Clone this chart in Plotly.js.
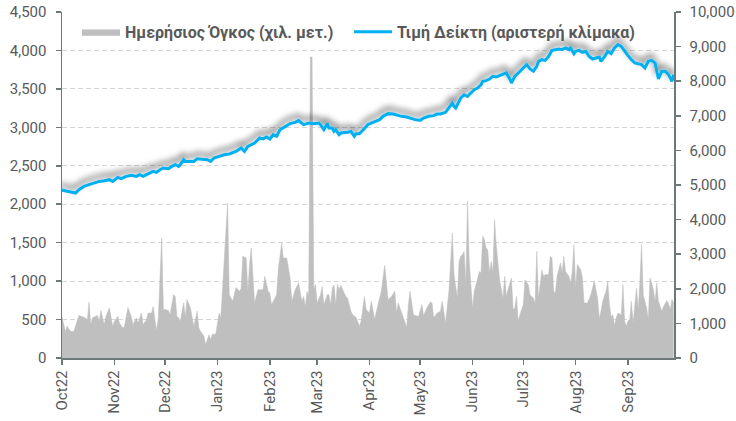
<!DOCTYPE html>
<html>
<head>
<meta charset="utf-8">
<script src="https://cdn.plot.ly/plotly-3.0.1.min.js"></script>
<style>
html,body{margin:0;padding:0;background:#fff;}
#chart{width:736px;height:421px;}
</style>
</head>
<body>
<div id="chart"></div>
<script>
// ---- Data ----
const volumeDates = ['2022-09-30','2022-10-03','2022-10-04','2022-10-06','2022-10-08','2022-10-10','2022-10-11','2022-10-14','2022-10-16','2022-10-17','2022-10-18','2022-10-19','2022-10-22','2022-10-23','2022-10-24','2022-10-26','2022-10-27','2022-10-29','2022-10-31',
'2022-11-01','2022-11-03','2022-11-04','2022-11-06','2022-11-07','2022-11-08','2022-11-09','2022-11-11','2022-11-12','2022-11-14','2022-11-15','2022-11-17','2022-11-18','2022-11-20','2022-11-21','2022-11-23','2022-11-24','2022-11-25','2022-11-26','2022-11-27','2022-11-29','2022-11-30',
'2022-12-01','2022-12-03','2022-12-04','2022-12-06','2022-12-07','2022-12-08','2022-12-09','2022-12-10','2022-12-12','2022-12-13','2022-12-14','2022-12-16','2022-12-17','2022-12-18','2022-12-20','2022-12-21','2022-12-22','2022-12-24','2022-12-25','2022-12-27','2022-12-28','2022-12-29','2022-12-31',
'2023-01-02','2023-01-03','2023-01-05','2023-01-07','2023-01-08','2023-01-10','2023-01-12','2023-01-14','2023-01-15','2023-01-16','2023-01-18','2023-01-19','2023-01-20','2023-01-21','2023-01-23','2023-01-25','2023-01-26','2023-01-28','2023-01-29','2023-01-31',
'2023-02-01','2023-02-02','2023-02-04','2023-02-05','2023-02-06','2023-02-08','2023-02-09','2023-02-11','2023-02-13','2023-02-14','2023-02-16','2023-02-18','2023-02-20','2023-02-21','2023-02-22','2023-02-23','2023-02-24','2023-02-25','2023-02-26','2023-02-27','2023-02-28',
'2023-03-01','2023-03-03','2023-03-04','2023-03-05','2023-03-07','2023-03-08','2023-03-09','2023-03-10','2023-03-11','2023-03-12','2023-03-13','2023-03-14','2023-03-15','2023-03-17','2023-03-18','2023-03-19','2023-03-21','2023-03-22','2023-03-24','2023-03-26','2023-03-27','2023-03-29','2023-03-30',
'2023-04-01','2023-04-02','2023-04-03','2023-04-04','2023-04-06','2023-04-08','2023-04-09','2023-04-10','2023-04-12','2023-04-14','2023-04-16','2023-04-17','2023-04-18','2023-04-20','2023-04-21','2023-04-23','2023-04-24','2023-04-25','2023-04-27','2023-04-29','2023-04-30',
'2023-05-02','2023-05-03','2023-05-05','2023-05-07','2023-05-08','2023-05-09','2023-05-11','2023-05-13','2023-05-14','2023-05-15','2023-05-16','2023-05-18','2023-05-19','2023-05-20','2023-05-21','2023-05-23','2023-05-24','2023-05-25','2023-05-26','2023-05-27','2023-05-28','2023-05-29','2023-05-30',
'2023-06-01','2023-06-02','2023-06-04','2023-06-05','2023-06-06','2023-06-07','2023-06-08','2023-06-09','2023-06-10','2023-06-11','2023-06-12','2023-06-13','2023-06-14','2023-06-15','2023-06-17','2023-06-18','2023-06-19','2023-06-20','2023-06-21','2023-06-22','2023-06-23','2023-06-24','2023-06-25','2023-06-26','2023-06-27','2023-06-28','2023-06-30',
'2023-07-01','2023-07-02','2023-07-04','2023-07-05','2023-07-07','2023-07-08','2023-07-09','2023-07-10','2023-07-12','2023-07-13','2023-07-14','2023-07-16','2023-07-17','2023-07-18','2023-07-19','2023-07-20','2023-07-21','2023-07-22','2023-07-23','2023-07-24','2023-07-25','2023-07-26','2023-07-28','2023-07-29','2023-07-30','2023-07-31',
'2023-08-01','2023-08-02','2023-08-04','2023-08-05','2023-08-06','2023-08-08','2023-08-09','2023-08-10','2023-08-11','2023-08-12','2023-08-14','2023-08-15','2023-08-16','2023-08-17','2023-08-19','2023-08-20','2023-08-21','2023-08-22','2023-08-23','2023-08-24','2023-08-25','2023-08-26','2023-08-28','2023-08-29','2023-08-30','2023-08-31',
'2023-09-01','2023-09-02','2023-09-03','2023-09-04','2023-09-06','2023-09-07','2023-09-08','2023-09-09','2023-09-10','2023-09-12','2023-09-13','2023-09-14','2023-09-15','2023-09-16','2023-09-17','2023-09-18','2023-09-19','2023-09-21','2023-09-22','2023-09-24','2023-09-25','2023-09-26','2023-09-27','2023-09-28'];

const volumeValues = [1400,770,920,770,770,1110,1230,1180,1110,1620,960,1160,1230,1060,1370,960,1200,1450,920,
1060,1200,1010,870,920,1200,1460,1200,960,1160,1010,1300,960,1110,1300,1300,1490,1110,790,1160,3470,1400,
1400,1370,1250,1830,1780,1200,1160,1060,1590,1200,1690,1450,1160,920,1350,870,770,630,390,670,530,690,690,
1300,1160,2990,4480,1830,1640,2040,1930,2000,2940,2890,1930,2700,3180,1590,1970,1970,1970,2360,1930,
1880,1540,1730,1830,2550,3320,2890,2890,2310,1640,1970,2170,1640,1780,1490,1930,1800,8700,8700,2000,2120,
1590,1830,2070,1540,1830,1830,1540,2020,2120,1540,2140,1970,2100,1880,1780,1730,1350,1250,1180,920,1060,1780,1400,
1300,1640,1400,1110,1540,1930,2310,2680,1690,1780,1930,1300,1590,1300,1160,890,1540,1930,1250,1230,1200,
1540,1230,1450,1620,1590,1160,1300,1350,1640,1350,1010,1930,2790,3610,2410,1730,2790,2940,2990,3080,2120,4530,2790,
1450,1930,2310,2500,2460,3520,3420,3180,3130,2460,2790,2460,4000,3270,2260,1930,1730,2360,1780,1970,2170,2310,1400,1450,1780,1080,1400,
1540,2260,2120,1830,1730,1590,3080,1730,2550,2360,2410,2410,2940,2890,1930,1880,2360,2550,2750,2460,2940,2500,2360,2170,2500,3270,
2020,2700,2550,2310,1590,1590,1690,1830,2020,2230,1730,1140,1350,1640,1930,2220,1540,1180,1250,940,1160,1300,1250,2120,1060,920,
1080,1110,1640,1010,2020,1400,2170,3290,1830,1450,1110,2310,2170,1970,1640,2170,1640,1350,1490,1660,1560,1400,1690,1590];

const indexDates = ['2022-09-30','2022-10-03','2022-10-06','2022-10-09','2022-10-11','2022-10-14','2022-10-17','2022-10-20','2022-10-23','2022-10-26','2022-10-29','2022-10-31',
'2022-11-03','2022-11-05','2022-11-08','2022-11-11','2022-11-14','2022-11-16','2022-11-18','2022-11-20','2022-11-22','2022-11-24','2022-11-26','2022-11-28','2022-11-30',
'2022-12-03','2022-12-05','2022-12-07','2022-12-09','2022-12-10','2022-12-12','2022-12-13','2022-12-16','2022-12-18','2022-12-20','2022-12-23','2022-12-26','2022-12-28','2022-12-30',
'2023-01-02','2023-01-05','2023-01-08','2023-01-10','2023-01-12','2023-01-15','2023-01-17','2023-01-19','2023-01-21','2023-01-23','2023-01-26','2023-01-28','2023-01-30',
'2023-02-01','2023-02-03','2023-02-05','2023-02-07','2023-02-10','2023-02-13','2023-02-16','2023-02-18','2023-02-21','2023-02-24','2023-02-27',
'2023-03-02','2023-03-03','2023-03-05','2023-03-07','2023-03-08','2023-03-10','2023-03-11','2023-03-12','2023-03-14','2023-03-15','2023-03-17','2023-03-19','2023-03-21','2023-03-23','2023-03-24','2023-03-26','2023-03-28','2023-03-29','2023-03-31',
'2023-04-02','2023-04-04','2023-04-07','2023-04-09','2023-04-12','2023-04-15','2023-04-18','2023-04-20','2023-04-23','2023-04-26','2023-04-28',
'2023-05-01','2023-05-03','2023-05-06','2023-05-09','2023-05-11','2023-05-13','2023-05-16','2023-05-18','2023-05-20','2023-05-21','2023-05-22','2023-05-24','2023-05-25','2023-05-27','2023-05-29','2023-05-31',
'2023-06-02','2023-06-04','2023-06-06','2023-06-07','2023-06-09','2023-06-11','2023-06-13','2023-06-15','2023-06-17','2023-06-19','2023-06-21','2023-06-23','2023-06-24','2023-06-26','2023-06-28','2023-06-30',
'2023-07-02','2023-07-03','2023-07-05','2023-07-07','2023-07-09','2023-07-10','2023-07-12','2023-07-14','2023-07-16','2023-07-18','2023-07-20','2023-07-22','2023-07-24','2023-07-26','2023-07-28','2023-07-29','2023-07-31',
'2023-08-01','2023-08-03','2023-08-05','2023-08-07','2023-08-09','2023-08-11','2023-08-13','2023-08-15','2023-08-16','2023-08-18','2023-08-20','2023-08-22','2023-08-24','2023-08-26','2023-08-28','2023-08-30',
'2023-09-01','2023-09-03','2023-09-05','2023-09-07','2023-09-09','2023-09-11','2023-09-13','2023-09-15','2023-09-17','2023-09-19','2023-09-21','2023-09-23','2023-09-25','2023-09-27','2023-09-28'];

const indexValues = [2189,2176,2163,2146,2189,2232,2254,2276,2297,2306,2319,2297,
2349,2332,2362,2375,2362,2384,2362,2384,2406,2427,2414,2449,2471,
2462,2492,2514,2492,2514,2579,2557,2557,2557,2592,2587,2579,2557,2601,
2622,2644,2653,2666,2687,2731,2687,2752,2774,2796,2861,2850,2874,
2848,2904,2883,2969,3013,3048,3065,3087,3035,3056,3048,
3056,3035,2969,3048,2991,2991,2948,2969,2904,2926,2926,2935,2948,2883,2917,2917,2961,2991,3035,
3056,3078,3100,3143,3178,3173,3152,3143,3134,3113,3100,
3091,3121,3143,3152,3173,3173,3195,3251,3316,3273,3251,3338,3381,3424,3403,3446,
3490,3511,3554,3598,3607,3628,3663,3655,3672,3685,3707,3629,3577,3663,3707,3750,
3785,3815,3759,3729,3794,3859,3880,3871,3923,4001,4010,4019,4010,4032,4010,4032,3958,
3988,4001,3975,3988,3923,3889,3902,3915,3858,3915,3988,3958,4032,4075,4053,3988,
3932,3880,3837,3828,3815,3772,3859,3871,3837,3629,3729,3729,3685,3598,3685];

const monthTicks = ['2022-10-01','2022-11-01','2022-12-01','2023-01-01','2023-02-01','2023-03-01','2023-04-01','2023-05-01','2023-06-01','2023-07-01','2023-08-01','2023-09-01'];
const monthLabels = ['Oct22','Nov22','Dec22','Jan23','Feb23','Mar23','Apr23','May23','Jun23','Jul23','Aug23','Sep23'];
const leftTicks = [0,500,1000,1500,2000,2500,3000,3500,4000,4500];
const rightTicks = [0,1000,2000,3000,4000,5000,6000,7000,8000,9000,10000];
const volumeName = 'Ημερήσιος Όγκος (χιλ. μετ.)';
const indexName = 'Τιμή Δείκτη (αριστερή κλίμακα)';

// ---- Styling ----
const FONT = 'Roboto, "Open Sans", sans-serif';
const TXT = '#595959';
const AX = '#6d7878';

const traces = [
  {
    x: volumeDates, y: volumeValues, name: volumeName,
    type: 'scatter', mode: 'lines', fill: 'tozeroy',
    fillcolor: '#BFBFBF', line: {color: '#BFBFBF', width: 0.5},
    yaxis: 'y', hoverinfo: 'skip', legend: 'legend'
  },
  {
    x: indexDates, y: indexValues, name: indexName,
    type: 'scatter', mode: 'lines',
    line: {color: '#00B0F0', width: 3},
    yaxis: 'y2', hoverinfo: 'skip', legend: 'legend2'
  }
];

const tickfont = {family: FONT, size: 15, color: TXT};
const legendFont = {family: FONT, size: 16, color: TXT, weight: 'bold'};

const layout = {
  width: 736, height: 421,
  margin: {l: 62, r: 62, t: 12, b: 63, pad: 0},
  paper_bgcolor: '#ffffff', plot_bgcolor: 'rgba(0,0,0,0)',
  font: {family: FONT, color: TXT},
  showlegend: true,
  legend: {
    orientation: 'h', x: 0.0245, xanchor: 'left', y: 0.992, yanchor: 'top',
    bgcolor: 'rgba(0,0,0,0)', borderwidth: 0, itemwidth: 38, font: legendFont
  },
  legend2: {
    orientation: 'h', x: 0.469, xanchor: 'left', y: 0.992, yanchor: 'top',
    bgcolor: 'rgba(0,0,0,0)', borderwidth: 0, itemwidth: 38, font: legendFont
  },
  xaxis: {
    type: 'date', range: ['2022-10-01', '2023-09-28 05:00'],
    tickmode: 'array', tickvals: monthTicks, ticktext: monthLabels,
    tickangle: -90, tickfont: tickfont,
    ticks: 'outside', ticklen: 5, tickwidth: 1.5, tickcolor: AX,
    showline: true, linecolor: AX, linewidth: 1.5,
    showgrid: false, zeroline: false, fixedrange: true
  },
  yaxis: {
    side: 'right', range: [0, 10000],
    tickmode: 'array', tickvals: rightTicks, tickformat: ',d', tickfont: tickfont,
    ticks: 'outside', ticklen: 5, tickwidth: 1.5, tickcolor: AX,
    showline: true, linecolor: AX, linewidth: 1.5,
    showgrid: false, zeroline: false, fixedrange: true,
    ticklabelstandoff: 6
  },
  yaxis2: {
    overlaying: 'y', side: 'left', range: [0, 4500],
    tickmode: 'array', tickvals: leftTicks, tickformat: ',d', tickfont: tickfont,
    ticks: 'outside', ticklen: 5, tickwidth: 1.5, tickcolor: AX,
    showline: true, linecolor: AX, linewidth: 1.5,
    showgrid: true, gridcolor: '#D6D6D6', gridwidth: 1, griddash: '5px,3px',
    zeroline: false, fixedrange: true,
    ticklabelstandoff: 6
  }
};

Plotly.newPlot('chart', traces, layout, {displayModeBar: false, staticPlot: true}).then(function(gd){
  // soft shadow behind the index line (as in the original)
  const ns = 'http://www.w3.org/2000/svg';
  const svg = gd.querySelector('svg.main-svg');
  let defs = svg.querySelector('defs');
  if (!defs) { defs = document.createElementNS(ns, 'defs'); svg.insertBefore(defs, svg.firstChild); }
  const f = document.createElementNS(ns, 'filter');
  f.setAttribute('id', 'lineShadow');
  f.setAttribute('filterUnits', 'userSpaceOnUse');
  f.setAttribute('x', '-200'); f.setAttribute('y', '-200');
  f.setAttribute('width', '1200'); f.setAttribute('height', '900');
  f.innerHTML = '<feGaussianBlur in="SourceAlpha" stdDeviation="3.4" result="b"/>' +
    '<feOffset in="b" dx="-1" dy="-5" result="o"/>' +
    '<feFlood flood-color="#000000" flood-opacity="0.62"/>' +
    '<feComposite in2="o" operator="in" result="s"/>' +
    '<feMerge><feMergeNode in="s"/><feMergeNode in="SourceGraphic"/></feMerge>';
  defs.appendChild(f);
  gd.querySelectorAll('.scatterlayer path.js-line').forEach(function(p){
    if (p.style.strokeWidth === '3px') p.setAttribute('filter', 'url(#lineShadow)');
  });
});
</script>
</body>
</html>
